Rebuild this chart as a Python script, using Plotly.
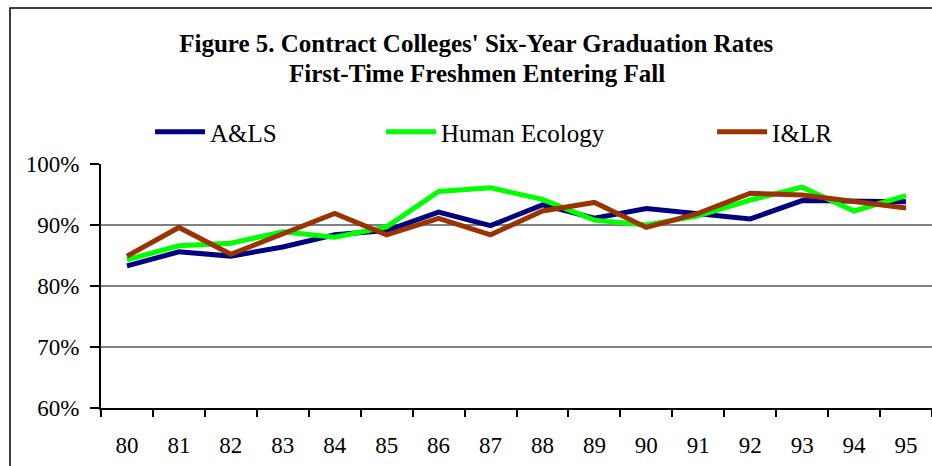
import plotly.graph_objects as go

years = ["80", "81", "82", "83", "84", "85", "86", "87",
         "88", "89", "90", "91", "92", "93", "94", "95"]
als = [83.3, 85.6, 84.9, 86.4, 88.4, 89.1, 92.1, 89.9,
       93.3, 91.1, 92.7, 91.9, 91.0, 94.0, 94.0, 93.8]
human_ecology = [84.3, 86.6, 87.0, 88.9, 88.0, 89.7, 95.5, 96.1,
                 94.2, 90.8, 90.0, 91.5, 94.1, 96.2, 92.3, 94.8]
ilr = [84.9, 89.6, 85.2, 88.6, 91.9, 88.4, 91.1, 88.4,
       92.3, 93.7, 89.6, 91.9, 95.2, 94.9, 93.9, 92.8]

SERIF = "Liberation Serif, Times New Roman, serif"

series = [
    ("A&LS", als, "#000080", "legend"),
    ("Human Ecology", human_ecology, "#00ff00", "legend2"),
    ("I&LR", ilr, "#993300", "legend3"),
]

fig = go.Figure()
for name, vals, color, leg in series:
    fig.add_trace(go.Scatter(
        x=years,
        y=[v / 100 for v in vals],
        name=name,
        mode="lines",
        line=dict(color=color, width=5),
        legend=leg,
        showlegend=True,
        hovertemplate=f"<b>{name}</b><br>%{{x}}: %{{y:.1%}}<extra></extra>",
    ))

_LEG = dict(
    orientation="h",
    yanchor="middle",
    y=1.131,
    xanchor="left",
    itemwidth=50,
    bgcolor="rgba(0,0,0,0)",
    font=dict(family=SERIF, size=25, color="#000000"),
)

fig.update_layout(
    width=932,
    height=466,
    showlegend=True,
    paper_bgcolor="#ffffff",
    plot_bgcolor="#ffffff",
    margin=dict(l=101, r=0, t=164, b=58),
    font=dict(family=SERIF, size=23, color="#000000"),
    title=dict(
        text="<b>Figure 5. Contract Colleges' Six-Year Graduation Rates</b>",
        x=0.511, xanchor="center",
        y=1 - 43 / 466, yanchor="middle",
        font=dict(family=SERIF, size=25, color="#000000"),
    ),
    legend=dict(_LEG, x=0.059),
    legend2=dict(_LEG, x=0.337),
    legend3=dict(_LEG, x=0.7354),
    xaxis=dict(
        type="category",
        range=[-0.5, 15.5],
        tickson="boundaries",
        ticks="outside",
        ticklen=7,
        tickwidth=1.5,
        tickcolor="#000000",
        showline=True,
        linecolor="#000000",
        linewidth=2,
        showgrid=False,
        ticklabelstandoff=15,
        fixedrange=True,
    ),
    yaxis=dict(
        range=[0.6, 1.0],
        dtick=0.1,
        tickformat=".0%",
        ticks="outside",
        ticklen=9,
        tickwidth=1.5,
        tickcolor="#000000",
        showline=True,
        linecolor="#000000",
        linewidth=2,
        showgrid=True,
        gridcolor="#808080",
        gridwidth=1.5,
        zeroline=False,
        ticklabelstandoff=6,
        fixedrange=True,
    ),
    annotations=[dict(
        text="<b>First-Time Freshmen Entering Fall</b>",
        xref="paper", yref="paper",
        x=(477 - 101) / 831, y=(408 - 74) / 244,
        xanchor="center", yanchor="middle",
        showarrow=False,
        font=dict(family=SERIF, size=25, color="#000000"),
    )],
    shapes=[dict(
        type="rect",
        xref="paper", yref="paper",
        x0=(10 - 101) / 831, x1=(940 - 101) / 831,
        y0=(408 - 480) / 244, y1=(408 - 8) / 244,
        line=dict(color="#000000", width=1.5),
        fillcolor="rgba(0,0,0,0)",
        layer="below",
    )],
)

# the page's default 8px body margin would shift the figure
fig.write_html(
    "out.html",
    config={"displayModeBar": False},
    post_script="document.body.style.margin='0';",
)
